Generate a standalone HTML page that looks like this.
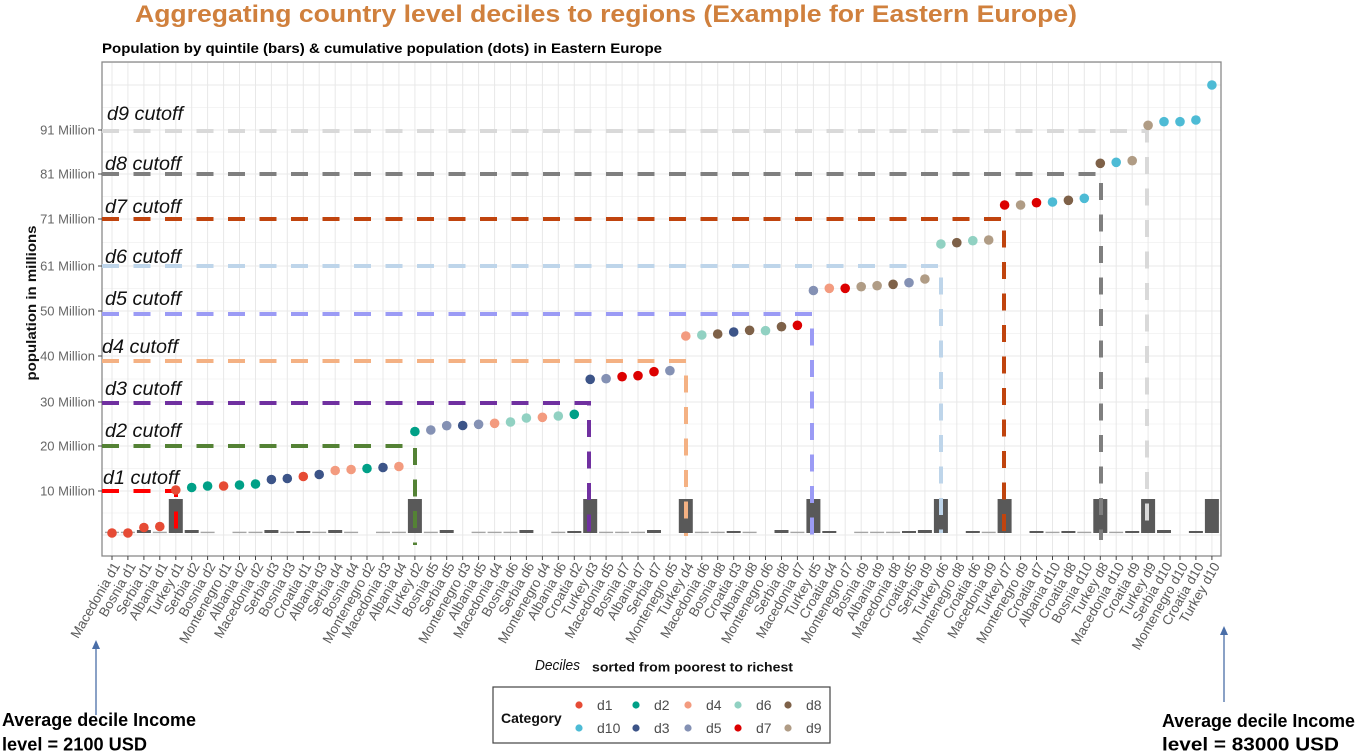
<!DOCTYPE html>
<html><head><meta charset="utf-8"><style>
html,body{margin:0;padding:0;background:#fff;}
svg{display:block;}
text{font-family:"Liberation Sans",Arial,sans-serif;}
.xl{font-size:13.5px;fill:#5a5a5a;}
.yl{font-size:13px;fill:#666;}
.cut{font-size:19px;font-style:italic;fill:#111;}
.lg{font-size:14px;fill:#4d4d4d;}
</style></head><body>
<svg width="1357" height="754" viewBox="0 0 1357 754" xmlns="http://www.w3.org/2000/svg">
<rect width="1357" height="754" fill="#fff"/>
<text x="135" y="22" font-size="24" font-weight="bold" fill="#d0803d" textLength="942" lengthAdjust="spacingAndGlyphs">Aggregating country level deciles to regions (Example for Eastern Europe)</text>
<text x="102" y="53" font-size="14" font-weight="bold" fill="#000" textLength="560" lengthAdjust="spacingAndGlyphs">Population by quintile (bars) &amp; cumulative population (dots) in Eastern Europe</text>

<!-- panel grid -->
<g stroke="#f4f4f4" stroke-width="1">
<line x1="102" x2="1221" y1="62.5" y2="62.5"/><line x1="102" x2="1221" y1="107.5" y2="107.5"/><line x1="102" x2="1221" y1="152" y2="152"/><line x1="102" x2="1221" y1="196.5" y2="196.5"/><line x1="102" x2="1221" y1="242.5" y2="242.5"/><line x1="102" x2="1221" y1="288.5" y2="288.5"/><line x1="102" x2="1221" y1="333.5" y2="333.5"/><line x1="102" x2="1221" y1="379" y2="379"/><line x1="102" x2="1221" y1="424" y2="424"/><line x1="102" x2="1221" y1="468.5" y2="468.5"/><line x1="102" x2="1221" y1="513" y2="513"/>
</g>
<g stroke="#e8e8e8" stroke-width="1">
<line x1="102" x2="1221" y1="85" y2="85"/><line x1="102" x2="1221" y1="130" y2="130"/><line x1="102" x2="1221" y1="174" y2="174"/><line x1="102" x2="1221" y1="219" y2="219"/><line x1="102" x2="1221" y1="266" y2="266"/><line x1="102" x2="1221" y1="311" y2="311"/><line x1="102" x2="1221" y1="356" y2="356"/><line x1="102" x2="1221" y1="402" y2="402"/><line x1="102" x2="1221" y1="446" y2="446"/><line x1="102" x2="1221" y1="491" y2="491"/><line x1="102" x2="1221" y1="535" y2="535"/>
<line x1="112" x2="112" y1="62" y2="556"/><line x1="127.9" x2="127.9" y1="62" y2="556"/><line x1="143.9" x2="143.9" y1="62" y2="556"/><line x1="159.8" x2="159.8" y1="62" y2="556"/><line x1="175.8" x2="175.8" y1="62" y2="556"/><line x1="191.7" x2="191.7" y1="62" y2="556"/><line x1="207.6" x2="207.6" y1="62" y2="556"/><line x1="223.6" x2="223.6" y1="62" y2="556"/><line x1="239.5" x2="239.5" y1="62" y2="556"/><line x1="255.5" x2="255.5" y1="62" y2="556"/><line x1="271.4" x2="271.4" y1="62" y2="556"/><line x1="287.3" x2="287.3" y1="62" y2="556"/><line x1="303.3" x2="303.3" y1="62" y2="556"/><line x1="319.2" x2="319.2" y1="62" y2="556"/><line x1="335.2" x2="335.2" y1="62" y2="556"/><line x1="351.1" x2="351.1" y1="62" y2="556"/><line x1="367" x2="367" y1="62" y2="556"/><line x1="383" x2="383" y1="62" y2="556"/><line x1="398.9" x2="398.9" y1="62" y2="556"/><line x1="414.9" x2="414.9" y1="62" y2="556"/><line x1="430.8" x2="430.8" y1="62" y2="556"/><line x1="446.7" x2="446.7" y1="62" y2="556"/><line x1="462.7" x2="462.7" y1="62" y2="556"/><line x1="478.6" x2="478.6" y1="62" y2="556"/><line x1="494.6" x2="494.6" y1="62" y2="556"/><line x1="510.5" x2="510.5" y1="62" y2="556"/><line x1="526.4" x2="526.4" y1="62" y2="556"/><line x1="542.4" x2="542.4" y1="62" y2="556"/><line x1="558.3" x2="558.3" y1="62" y2="556"/><line x1="574.3" x2="574.3" y1="62" y2="556"/><line x1="590.2" x2="590.2" y1="62" y2="556"/><line x1="606.1" x2="606.1" y1="62" y2="556"/><line x1="622.1" x2="622.1" y1="62" y2="556"/><line x1="638" x2="638" y1="62" y2="556"/><line x1="654" x2="654" y1="62" y2="556"/><line x1="669.9" x2="669.9" y1="62" y2="556"/><line x1="685.8" x2="685.8" y1="62" y2="556"/><line x1="701.8" x2="701.8" y1="62" y2="556"/><line x1="717.7" x2="717.7" y1="62" y2="556"/><line x1="733.7" x2="733.7" y1="62" y2="556"/><line x1="749.6" x2="749.6" y1="62" y2="556"/><line x1="765.5" x2="765.5" y1="62" y2="556"/><line x1="781.5" x2="781.5" y1="62" y2="556"/><line x1="797.4" x2="797.4" y1="62" y2="556"/><line x1="813.4" x2="813.4" y1="62" y2="556"/><line x1="829.3" x2="829.3" y1="62" y2="556"/><line x1="845.2" x2="845.2" y1="62" y2="556"/><line x1="861.2" x2="861.2" y1="62" y2="556"/><line x1="877.1" x2="877.1" y1="62" y2="556"/><line x1="893.1" x2="893.1" y1="62" y2="556"/><line x1="909" x2="909" y1="62" y2="556"/><line x1="924.9" x2="924.9" y1="62" y2="556"/><line x1="940.9" x2="940.9" y1="62" y2="556"/><line x1="956.8" x2="956.8" y1="62" y2="556"/><line x1="972.8" x2="972.8" y1="62" y2="556"/><line x1="988.7" x2="988.7" y1="62" y2="556"/><line x1="1004.6" x2="1004.6" y1="62" y2="556"/><line x1="1020.6" x2="1020.6" y1="62" y2="556"/><line x1="1036.5" x2="1036.5" y1="62" y2="556"/><line x1="1052.5" x2="1052.5" y1="62" y2="556"/><line x1="1068.4" x2="1068.4" y1="62" y2="556"/><line x1="1084.3" x2="1084.3" y1="62" y2="556"/><line x1="1100.3" x2="1100.3" y1="62" y2="556"/><line x1="1116.2" x2="1116.2" y1="62" y2="556"/><line x1="1132.2" x2="1132.2" y1="62" y2="556"/><line x1="1148.1" x2="1148.1" y1="62" y2="556"/><line x1="1164" x2="1164" y1="62" y2="556"/><line x1="1180" x2="1180" y1="62" y2="556"/><line x1="1195.9" x2="1195.9" y1="62" y2="556"/><line x1="1211.9" x2="1211.9" y1="62" y2="556"/>
</g>

<!-- bars -->
<g fill="#595959">
<rect x="168.8" y="499" width="14" height="34"/><rect x="407.9" y="499" width="14" height="34"/><rect x="583.2" y="499" width="14" height="34"/><rect x="678.8" y="499" width="14" height="34"/><rect x="806.4" y="499" width="14" height="34"/><rect x="933.9" y="499" width="14" height="34"/><rect x="997.6" y="499" width="14" height="34"/><rect x="1093.3" y="499" width="14" height="34"/><rect x="1141.1" y="499" width="14" height="34"/><rect x="1204.9" y="499" width="14" height="34"/>
<rect x="136.9" y="530" width="14" height="3"/><rect x="184.7" y="530" width="14" height="3"/><rect x="264.4" y="530" width="14" height="3"/><rect x="328.2" y="530" width="14" height="3"/><rect x="439.7" y="530" width="14" height="3"/><rect x="519.4" y="530" width="14" height="3"/><rect x="647" y="530" width="14" height="3"/><rect x="774.5" y="530" width="14" height="3"/><rect x="917.9" y="530" width="14" height="3"/><rect x="1157" y="530" width="14" height="3"/>
<rect x="296.3" y="531" width="14" height="2"/><rect x="567.3" y="531" width="14" height="2"/><rect x="726.7" y="531" width="14" height="2"/><rect x="822.3" y="531" width="14" height="2"/><rect x="902" y="531" width="14" height="2"/><rect x="965.8" y="531" width="14" height="2"/><rect x="1029.5" y="531" width="14" height="2"/><rect x="1061.4" y="531" width="14" height="2"/><rect x="1125.2" y="531" width="14" height="2"/><rect x="1188.9" y="531" width="14" height="2"/>
</g>
<g fill="#a5a5a5">
<rect x="105" y="531.7" width="14" height="1.4"/><rect x="120.9" y="531.7" width="14" height="1.4"/><rect x="152.8" y="531.7" width="14" height="1.4"/><rect x="200.6" y="531.7" width="14" height="1.4"/><rect x="232.5" y="531.7" width="14" height="1.4"/><rect x="248.5" y="531.7" width="14" height="1.4"/><rect x="280.3" y="531.7" width="14" height="1.4"/><rect x="312.2" y="531.7" width="14" height="1.4"/><rect x="344.1" y="531.7" width="14" height="1.4"/><rect x="376" y="531.7" width="14" height="1.4"/><rect x="391.9" y="531.7" width="14" height="1.4"/><rect x="423.8" y="531.7" width="14" height="1.4"/><rect x="471.6" y="531.7" width="14" height="1.4"/><rect x="487.6" y="531.7" width="14" height="1.4"/><rect x="503.5" y="531.7" width="14" height="1.4"/><rect x="551.3" y="531.7" width="14" height="1.4"/><rect x="599.1" y="531.7" width="14" height="1.4"/><rect x="615.1" y="531.7" width="14" height="1.4"/><rect x="631" y="531.7" width="14" height="1.4"/><rect x="694.8" y="531.7" width="14" height="1.4"/><rect x="710.7" y="531.7" width="14" height="1.4"/><rect x="742.6" y="531.7" width="14" height="1.4"/><rect x="790.4" y="531.7" width="14" height="1.4"/><rect x="854.2" y="531.7" width="14" height="1.4"/><rect x="870.1" y="531.7" width="14" height="1.4"/><rect x="886.1" y="531.7" width="14" height="1.4"/><rect x="981.7" y="531.7" width="14" height="1.4"/><rect x="1045.5" y="531.7" width="14" height="1.4"/><rect x="1077.3" y="531.7" width="14" height="1.4"/><rect x="1109.2" y="531.7" width="14" height="1.4"/>
</g>

<!-- panel border -->
<rect x="102" y="62" width="1119" height="494" fill="none" stroke="#8a8a8a" stroke-width="1.3"/>

<!-- cutoff lines -->
<g fill="none" stroke-width="4" stroke-dasharray="17 14.5">
<path d="M102 131 H1147 V533" stroke="#d9d9d9"/>
<path d="M102 174 H1101 V540" stroke="#7f7f7f"/>
<path d="M102 219 H1004 V543" stroke="#c0440e"/>
<path d="M102 266 H941 V533" stroke="#bed5ea"/>
<path d="M102 314 H812 V536" stroke="#9b9bf5"/>
<path d="M102 361 H686 V536" stroke="#f4b183"/>
<path d="M102 403 H589 V536" stroke="#7030a0"/>
<path d="M102 446 H415 V545" stroke="#548235"/>
<path d="M102 491 H176 V540" stroke="#ff0000"/>
</g>

<!-- dots -->
<g>
<circle cx="112" cy="533" r="4.8" fill="#E64B35"/><circle cx="127.9" cy="533" r="4.8" fill="#E64B35"/><circle cx="143.9" cy="527.5" r="4.8" fill="#E64B35"/><circle cx="159.8" cy="526.5" r="4.8" fill="#E64B35"/><circle cx="175.8" cy="490" r="4.8" fill="#E64B35"/><circle cx="191.7" cy="487.5" r="4.8" fill="#00A087"/><circle cx="207.6" cy="486" r="4.8" fill="#00A087"/><circle cx="223.6" cy="486" r="4.8" fill="#E64B35"/><circle cx="239.5" cy="485" r="4.8" fill="#00A087"/><circle cx="255.5" cy="484" r="4.8" fill="#00A087"/>
<circle cx="271.4" cy="479.5" r="4.8" fill="#3C5488"/><circle cx="287.3" cy="478.5" r="4.8" fill="#3C5488"/><circle cx="303.3" cy="476.5" r="4.8" fill="#E64B35"/><circle cx="319.2" cy="474.5" r="4.8" fill="#3C5488"/><circle cx="335.2" cy="470.5" r="4.8" fill="#F39B7F"/><circle cx="351.1" cy="469.5" r="4.8" fill="#F39B7F"/><circle cx="367" cy="468.5" r="4.8" fill="#00A087"/><circle cx="383" cy="467.5" r="4.8" fill="#3C5488"/><circle cx="398.9" cy="466.5" r="4.8" fill="#F39B7F"/><circle cx="414.9" cy="431.5" r="4.8" fill="#00A087"/>
<circle cx="430.8" cy="430" r="4.8" fill="#8491B4"/><circle cx="446.7" cy="425.7" r="4.8" fill="#8491B4"/><circle cx="462.7" cy="425.5" r="4.8" fill="#3C5488"/><circle cx="478.6" cy="424.3" r="4.8" fill="#8491B4"/><circle cx="494.6" cy="423.3" r="4.8" fill="#F39B7F"/><circle cx="510.5" cy="422" r="4.8" fill="#91D1C2"/><circle cx="526.4" cy="418" r="4.8" fill="#91D1C2"/><circle cx="542.4" cy="417.3" r="4.8" fill="#F39B7F"/><circle cx="558.3" cy="416" r="4.8" fill="#91D1C2"/><circle cx="574.3" cy="414.3" r="4.8" fill="#00A087"/>
<circle cx="590.2" cy="379.3" r="4.8" fill="#3C5488"/><circle cx="606.1" cy="378.7" r="4.8" fill="#8491B4"/><circle cx="622.1" cy="376.7" r="4.8" fill="#DC0000"/><circle cx="638" cy="375.7" r="4.8" fill="#DC0000"/><circle cx="654" cy="371.7" r="4.8" fill="#DC0000"/><circle cx="669.9" cy="370.7" r="4.8" fill="#8491B4"/><circle cx="685.8" cy="336" r="4.8" fill="#F39B7F"/><circle cx="701.8" cy="335" r="4.8" fill="#91D1C2"/><circle cx="717.7" cy="334" r="4.8" fill="#7E6148"/><circle cx="733.7" cy="332" r="4.8" fill="#3C5488"/>
<circle cx="749.6" cy="330.3" r="4.8" fill="#7E6148"/><circle cx="765.5" cy="330.7" r="4.8" fill="#91D1C2"/><circle cx="781.5" cy="326.7" r="4.8" fill="#7E6148"/><circle cx="797.4" cy="325.3" r="4.8" fill="#DC0000"/><circle cx="813.4" cy="290.5" r="4.8" fill="#8491B4"/><circle cx="829.3" cy="288.3" r="4.8" fill="#F39B7F"/><circle cx="845.2" cy="288.3" r="4.8" fill="#DC0000"/><circle cx="861.2" cy="286.7" r="4.8" fill="#B09C85"/><circle cx="877.1" cy="285.7" r="4.8" fill="#B09C85"/><circle cx="893.1" cy="284.3" r="4.8" fill="#7E6148"/>
<circle cx="909" cy="282.7" r="4.8" fill="#8491B4"/><circle cx="924.9" cy="279" r="4.8" fill="#B09C85"/><circle cx="940.9" cy="244" r="4.8" fill="#91D1C2"/><circle cx="956.8" cy="242.7" r="4.8" fill="#7E6148"/><circle cx="972.8" cy="240.7" r="4.8" fill="#91D1C2"/><circle cx="988.7" cy="240" r="4.8" fill="#B09C85"/><circle cx="1004.6" cy="205" r="4.8" fill="#DC0000"/><circle cx="1020.6" cy="205" r="4.8" fill="#B09C85"/><circle cx="1036.5" cy="202.7" r="4.8" fill="#DC0000"/><circle cx="1052.5" cy="202" r="4.8" fill="#4DBBD5"/>
<circle cx="1068.4" cy="200.3" r="4.8" fill="#7E6148"/><circle cx="1084.3" cy="198.3" r="4.8" fill="#4DBBD5"/><circle cx="1100.3" cy="163.3" r="4.8" fill="#7E6148"/><circle cx="1116.2" cy="162.3" r="4.8" fill="#4DBBD5"/><circle cx="1132.2" cy="160.7" r="4.8" fill="#B09C85"/><circle cx="1148.1" cy="125.3" r="4.8" fill="#B09C85"/><circle cx="1164" cy="121.7" r="4.8" fill="#4DBBD5"/><circle cx="1180" cy="121.7" r="4.8" fill="#4DBBD5"/><circle cx="1195.9" cy="120" r="4.8" fill="#4DBBD5"/><circle cx="1211.9" cy="85" r="4.8" fill="#4DBBD5"/>
</g>

<!-- cutoff labels -->
<text class="cut" x="107" y="120" textLength="76" lengthAdjust="spacingAndGlyphs">d9 cutoff</text>
<text class="cut" x="105" y="170" textLength="76" lengthAdjust="spacingAndGlyphs">d8 cutoff</text>
<text class="cut" x="105" y="213" textLength="76" lengthAdjust="spacingAndGlyphs">d7 cutoff</text>
<text class="cut" x="105" y="263" textLength="76" lengthAdjust="spacingAndGlyphs">d6 cutoff</text>
<text class="cut" x="105" y="305" textLength="76" lengthAdjust="spacingAndGlyphs">d5 cutoff</text>
<text class="cut" x="102" y="353" textLength="76" lengthAdjust="spacingAndGlyphs">d4 cutoff</text>
<text class="cut" x="105" y="395" textLength="76" lengthAdjust="spacingAndGlyphs">d3 cutoff</text>
<text class="cut" x="105" y="437" textLength="76" lengthAdjust="spacingAndGlyphs">d2 cutoff</text>
<text class="cut" x="103" y="484" textLength="76" lengthAdjust="spacingAndGlyphs">d1 cutoff</text>

<!-- y axis -->
<g stroke="#444" stroke-width="1">
<line x1="98" x2="102" y1="130" y2="130"/><line x1="98" x2="102" y1="174" y2="174"/><line x1="98" x2="102" y1="219" y2="219"/><line x1="98" x2="102" y1="266" y2="266"/><line x1="98" x2="102" y1="311" y2="311"/><line x1="98" x2="102" y1="356" y2="356"/><line x1="98" x2="102" y1="402" y2="402"/><line x1="98" x2="102" y1="446" y2="446"/><line x1="98" x2="102" y1="491" y2="491"/>
</g>
<g class="yl" text-anchor="end">
<text x="95" y="134.5">91 Million</text><text x="95" y="178.5">81 Million</text><text x="95" y="223.5">71 Million</text><text x="95" y="270.5">61 Million</text><text x="95" y="315.5">50 Million</text><text x="95" y="360.5">40 Million</text><text x="95" y="406.5">30 Million</text><text x="95" y="450.5">20 Million</text><text x="95" y="495.5">10 Million</text>
</g>
<text transform="translate(36 303) rotate(-90)" text-anchor="middle" font-size="14" font-weight="bold" fill="#111" textLength="155" lengthAdjust="spacingAndGlyphs">population in millions</text>

<!-- x ticks -->
<g stroke="#444" stroke-width="1">
<line x1="112" x2="112" y1="556" y2="560"/><line x1="127.9" x2="127.9" y1="556" y2="560"/><line x1="143.9" x2="143.9" y1="556" y2="560"/><line x1="159.8" x2="159.8" y1="556" y2="560"/><line x1="175.8" x2="175.8" y1="556" y2="560"/><line x1="191.7" x2="191.7" y1="556" y2="560"/><line x1="207.6" x2="207.6" y1="556" y2="560"/><line x1="223.6" x2="223.6" y1="556" y2="560"/><line x1="239.5" x2="239.5" y1="556" y2="560"/><line x1="255.5" x2="255.5" y1="556" y2="560"/><line x1="271.4" x2="271.4" y1="556" y2="560"/><line x1="287.3" x2="287.3" y1="556" y2="560"/><line x1="303.3" x2="303.3" y1="556" y2="560"/><line x1="319.2" x2="319.2" y1="556" y2="560"/><line x1="335.2" x2="335.2" y1="556" y2="560"/><line x1="351.1" x2="351.1" y1="556" y2="560"/><line x1="367" x2="367" y1="556" y2="560"/><line x1="383" x2="383" y1="556" y2="560"/><line x1="398.9" x2="398.9" y1="556" y2="560"/><line x1="414.9" x2="414.9" y1="556" y2="560"/><line x1="430.8" x2="430.8" y1="556" y2="560"/><line x1="446.7" x2="446.7" y1="556" y2="560"/><line x1="462.7" x2="462.7" y1="556" y2="560"/><line x1="478.6" x2="478.6" y1="556" y2="560"/><line x1="494.6" x2="494.6" y1="556" y2="560"/><line x1="510.5" x2="510.5" y1="556" y2="560"/><line x1="526.4" x2="526.4" y1="556" y2="560"/><line x1="542.4" x2="542.4" y1="556" y2="560"/><line x1="558.3" x2="558.3" y1="556" y2="560"/><line x1="574.3" x2="574.3" y1="556" y2="560"/><line x1="590.2" x2="590.2" y1="556" y2="560"/><line x1="606.1" x2="606.1" y1="556" y2="560"/><line x1="622.1" x2="622.1" y1="556" y2="560"/><line x1="638" x2="638" y1="556" y2="560"/><line x1="654" x2="654" y1="556" y2="560"/><line x1="669.9" x2="669.9" y1="556" y2="560"/><line x1="685.8" x2="685.8" y1="556" y2="560"/><line x1="701.8" x2="701.8" y1="556" y2="560"/><line x1="717.7" x2="717.7" y1="556" y2="560"/><line x1="733.7" x2="733.7" y1="556" y2="560"/><line x1="749.6" x2="749.6" y1="556" y2="560"/><line x1="765.5" x2="765.5" y1="556" y2="560"/><line x1="781.5" x2="781.5" y1="556" y2="560"/><line x1="797.4" x2="797.4" y1="556" y2="560"/><line x1="813.4" x2="813.4" y1="556" y2="560"/><line x1="829.3" x2="829.3" y1="556" y2="560"/><line x1="845.2" x2="845.2" y1="556" y2="560"/><line x1="861.2" x2="861.2" y1="556" y2="560"/><line x1="877.1" x2="877.1" y1="556" y2="560"/><line x1="893.1" x2="893.1" y1="556" y2="560"/><line x1="909" x2="909" y1="556" y2="560"/><line x1="924.9" x2="924.9" y1="556" y2="560"/><line x1="940.9" x2="940.9" y1="556" y2="560"/><line x1="956.8" x2="956.8" y1="556" y2="560"/><line x1="972.8" x2="972.8" y1="556" y2="560"/><line x1="988.7" x2="988.7" y1="556" y2="560"/><line x1="1004.6" x2="1004.6" y1="556" y2="560"/><line x1="1020.6" x2="1020.6" y1="556" y2="560"/><line x1="1036.5" x2="1036.5" y1="556" y2="560"/><line x1="1052.5" x2="1052.5" y1="556" y2="560"/><line x1="1068.4" x2="1068.4" y1="556" y2="560"/><line x1="1084.3" x2="1084.3" y1="556" y2="560"/><line x1="1100.3" x2="1100.3" y1="556" y2="560"/><line x1="1116.2" x2="1116.2" y1="556" y2="560"/><line x1="1132.2" x2="1132.2" y1="556" y2="560"/><line x1="1148.1" x2="1148.1" y1="556" y2="560"/><line x1="1164" x2="1164" y1="556" y2="560"/><line x1="1180" x2="1180" y1="556" y2="560"/><line x1="1195.9" x2="1195.9" y1="556" y2="560"/><line x1="1211.9" x2="1211.9" y1="556" y2="560"/>
</g>

<!-- x labels -->
<g class="xl" text-anchor="end">
<text x="112" y="561" dy="0.72em" transform="rotate(-60 112 561)">Macedonia d1</text>
<text x="127.9" y="561" dy="0.72em" transform="rotate(-60 127.9 561)">Bosnia d1</text>
<text x="143.9" y="561" dy="0.72em" transform="rotate(-60 143.9 561)">Serbia d1</text>
<text x="159.8" y="561" dy="0.72em" transform="rotate(-60 159.8 561)">Albania d1</text>
<text x="175.8" y="561" dy="0.72em" transform="rotate(-60 175.8 561)">Turkey d1</text>
<text x="191.7" y="561" dy="0.72em" transform="rotate(-60 191.7 561)">Serbia d2</text>
<text x="207.6" y="561" dy="0.72em" transform="rotate(-60 207.6 561)">Bosnia d2</text>
<text x="223.6" y="561" dy="0.72em" transform="rotate(-60 223.6 561)">Montenegro d1</text>
<text x="239.5" y="561" dy="0.72em" transform="rotate(-60 239.5 561)">Albania d2</text>
<text x="255.5" y="561" dy="0.72em" transform="rotate(-60 255.5 561)">Macedonia d2</text>
<text x="271.4" y="561" dy="0.72em" transform="rotate(-60 271.4 561)">Serbia d3</text>
<text x="287.3" y="561" dy="0.72em" transform="rotate(-60 287.3 561)">Bosnia d3</text>
<text x="303.3" y="561" dy="0.72em" transform="rotate(-60 303.3 561)">Croatia d1</text>
<text x="319.2" y="561" dy="0.72em" transform="rotate(-60 319.2 561)">Albania d3</text>
<text x="335.2" y="561" dy="0.72em" transform="rotate(-60 335.2 561)">Serbia d4</text>
<text x="351.1" y="561" dy="0.72em" transform="rotate(-60 351.1 561)">Bosnia d4</text>
<text x="367" y="561" dy="0.72em" transform="rotate(-60 367 561)">Montenegro d2</text>
<text x="383" y="561" dy="0.72em" transform="rotate(-60 383 561)">Macedonia d3</text>
<text x="398.9" y="561" dy="0.72em" transform="rotate(-60 398.9 561)">Albania d4</text>
<text x="414.9" y="561" dy="0.72em" transform="rotate(-60 414.9 561)">Turkey d2</text>
<text x="430.8" y="561" dy="0.72em" transform="rotate(-60 430.8 561)">Bosnia d5</text>
<text x="446.7" y="561" dy="0.72em" transform="rotate(-60 446.7 561)">Serbia d5</text>
<text x="462.7" y="561" dy="0.72em" transform="rotate(-60 462.7 561)">Montenegro d3</text>
<text x="478.6" y="561" dy="0.72em" transform="rotate(-60 478.6 561)">Albania d5</text>
<text x="494.6" y="561" dy="0.72em" transform="rotate(-60 494.6 561)">Macedonia d4</text>
<text x="510.5" y="561" dy="0.72em" transform="rotate(-60 510.5 561)">Bosnia d6</text>
<text x="526.4" y="561" dy="0.72em" transform="rotate(-60 526.4 561)">Serbia d6</text>
<text x="542.4" y="561" dy="0.72em" transform="rotate(-60 542.4 561)">Montenegro d4</text>
<text x="558.3" y="561" dy="0.72em" transform="rotate(-60 558.3 561)">Albania d6</text>
<text x="574.3" y="561" dy="0.72em" transform="rotate(-60 574.3 561)">Croatia d2</text>
<text x="590.2" y="561" dy="0.72em" transform="rotate(-60 590.2 561)">Turkey d3</text>
<text x="606.1" y="561" dy="0.72em" transform="rotate(-60 606.1 561)">Macedonia d5</text>
<text x="622.1" y="561" dy="0.72em" transform="rotate(-60 622.1 561)">Bosnia d7</text>
<text x="638" y="561" dy="0.72em" transform="rotate(-60 638 561)">Albania d7</text>
<text x="654" y="561" dy="0.72em" transform="rotate(-60 654 561)">Serbia d7</text>
<text x="669.9" y="561" dy="0.72em" transform="rotate(-60 669.9 561)">Montenegro d5</text>
<text x="685.8" y="561" dy="0.72em" transform="rotate(-60 685.8 561)">Turkey d4</text>
<text x="701.8" y="561" dy="0.72em" transform="rotate(-60 701.8 561)">Macedonia d6</text>
<text x="717.7" y="561" dy="0.72em" transform="rotate(-60 717.7 561)">Bosnia d8</text>
<text x="733.7" y="561" dy="0.72em" transform="rotate(-60 733.7 561)">Croatia d3</text>
<text x="749.6" y="561" dy="0.72em" transform="rotate(-60 749.6 561)">Albania d8</text>
<text x="765.5" y="561" dy="0.72em" transform="rotate(-60 765.5 561)">Montenegro d6</text>
<text x="781.5" y="561" dy="0.72em" transform="rotate(-60 781.5 561)">Serbia d8</text>
<text x="797.4" y="561" dy="0.72em" transform="rotate(-60 797.4 561)">Macedonia d7</text>
<text x="813.4" y="561" dy="0.72em" transform="rotate(-60 813.4 561)">Turkey d5</text>
<text x="829.3" y="561" dy="0.72em" transform="rotate(-60 829.3 561)">Croatia d4</text>
<text x="845.2" y="561" dy="0.72em" transform="rotate(-60 845.2 561)">Montenegro d7</text>
<text x="861.2" y="561" dy="0.72em" transform="rotate(-60 861.2 561)">Bosnia d9</text>
<text x="877.1" y="561" dy="0.72em" transform="rotate(-60 877.1 561)">Albania d9</text>
<text x="893.1" y="561" dy="0.72em" transform="rotate(-60 893.1 561)">Macedonia d8</text>
<text x="909" y="561" dy="0.72em" transform="rotate(-60 909 561)">Croatia d5</text>
<text x="924.9" y="561" dy="0.72em" transform="rotate(-60 924.9 561)">Serbia d9</text>
<text x="940.9" y="561" dy="0.72em" transform="rotate(-60 940.9 561)">Turkey d6</text>
<text x="956.8" y="561" dy="0.72em" transform="rotate(-60 956.8 561)">Montenegro d8</text>
<text x="972.8" y="561" dy="0.72em" transform="rotate(-60 972.8 561)">Croatia d6</text>
<text x="988.7" y="561" dy="0.72em" transform="rotate(-60 988.7 561)">Macedonia d9</text>
<text x="1004.6" y="561" dy="0.72em" transform="rotate(-60 1004.6 561)">Turkey d7</text>
<text x="1020.6" y="561" dy="0.72em" transform="rotate(-60 1020.6 561)">Montenegro d9</text>
<text x="1036.5" y="561" dy="0.72em" transform="rotate(-60 1036.5 561)">Croatia d7</text>
<text x="1052.5" y="561" dy="0.72em" transform="rotate(-60 1052.5 561)">Albania d10</text>
<text x="1068.4" y="561" dy="0.72em" transform="rotate(-60 1068.4 561)">Croatia d8</text>
<text x="1084.3" y="561" dy="0.72em" transform="rotate(-60 1084.3 561)">Bosnia d10</text>
<text x="1100.3" y="561" dy="0.72em" transform="rotate(-60 1100.3 561)">Turkey d8</text>
<text x="1116.2" y="561" dy="0.72em" transform="rotate(-60 1116.2 561)">Macedonia d10</text>
<text x="1132.2" y="561" dy="0.72em" transform="rotate(-60 1132.2 561)">Croatia d9</text>
<text x="1148.1" y="561" dy="0.72em" transform="rotate(-60 1148.1 561)">Turkey d9</text>
<text x="1164" y="561" dy="0.72em" transform="rotate(-60 1164 561)">Serbia d10</text>
<text x="1180" y="561" dy="0.72em" transform="rotate(-60 1180 561)">Montenegro d10</text>
<text x="1195.9" y="561" dy="0.72em" transform="rotate(-60 1195.9 561)">Croatia d10</text>
<text x="1211.9" y="561" dy="0.72em" transform="rotate(-60 1211.9 561)">Turkey d10</text>
</g>

<!-- x title -->
<text x="535" y="670" font-size="15" font-style="italic" fill="#111" textLength="45" lengthAdjust="spacingAndGlyphs">Deciles</text>
<text x="592" y="671.5" font-size="13" font-weight="bold" fill="#111" textLength="201" lengthAdjust="spacingAndGlyphs">sorted from poorest to richest</text>

<!-- legend -->
<rect x="493" y="687" width="337" height="56" fill="#fff" stroke="#444" stroke-width="1.2"/>
<text x="501" y="723" font-size="14" font-weight="bold" fill="#111">Category</text>
<g>
<circle cx="579" cy="705" r="3.6" fill="#E64B35"/><text class="lg" x="597" y="710">d1</text>
<circle cx="636" cy="705" r="3.6" fill="#00A087"/><text class="lg" x="654" y="710">d2</text>
<circle cx="688" cy="705" r="3.6" fill="#F39B7F"/><text class="lg" x="706" y="710">d4</text>
<circle cx="738" cy="705" r="3.6" fill="#91D1C2"/><text class="lg" x="756" y="710">d6</text>
<circle cx="788" cy="705" r="3.6" fill="#7E6148"/><text class="lg" x="806" y="710">d8</text>
<circle cx="579" cy="728" r="3.6" fill="#4DBBD5"/><text class="lg" x="597" y="733">d10</text>
<circle cx="636" cy="728" r="3.6" fill="#3C5488"/><text class="lg" x="654" y="733">d3</text>
<circle cx="688" cy="728" r="3.6" fill="#8491B4"/><text class="lg" x="706" y="733">d5</text>
<circle cx="738" cy="728" r="3.6" fill="#DC0000"/><text class="lg" x="756" y="733">d7</text>
<circle cx="788" cy="728" r="3.6" fill="#B09C85"/><text class="lg" x="806" y="733">d9</text>
</g>

<!-- arrows -->
<line x1="96" y1="715" x2="96" y2="647" stroke="#4a6ea8" stroke-width="1.3"/>
<polygon points="96,640 92,649 100,649" fill="#4a6ea8"/>
<line x1="1224" y1="702" x2="1224" y2="633" stroke="#4a6ea8" stroke-width="1.3"/>
<polygon points="1224,626 1220,635 1228,635" fill="#4a6ea8"/>

<!-- annotations -->
<text x="2" y="726" font-size="18" font-weight="bold" fill="#000" textLength="194" lengthAdjust="spacingAndGlyphs">Average decile Income</text>
<text x="2" y="750.5" font-size="18" font-weight="bold" fill="#000" textLength="145" lengthAdjust="spacingAndGlyphs">level = 2100 USD</text>
<text x="1162" y="727" font-size="18" font-weight="bold" fill="#000" textLength="193" lengthAdjust="spacingAndGlyphs">Average decile Income</text>
<text x="1162" y="750.5" font-size="18" font-weight="bold" fill="#000" textLength="177" lengthAdjust="spacingAndGlyphs">level = 83000 USD</text>
</svg>
</body></html>
